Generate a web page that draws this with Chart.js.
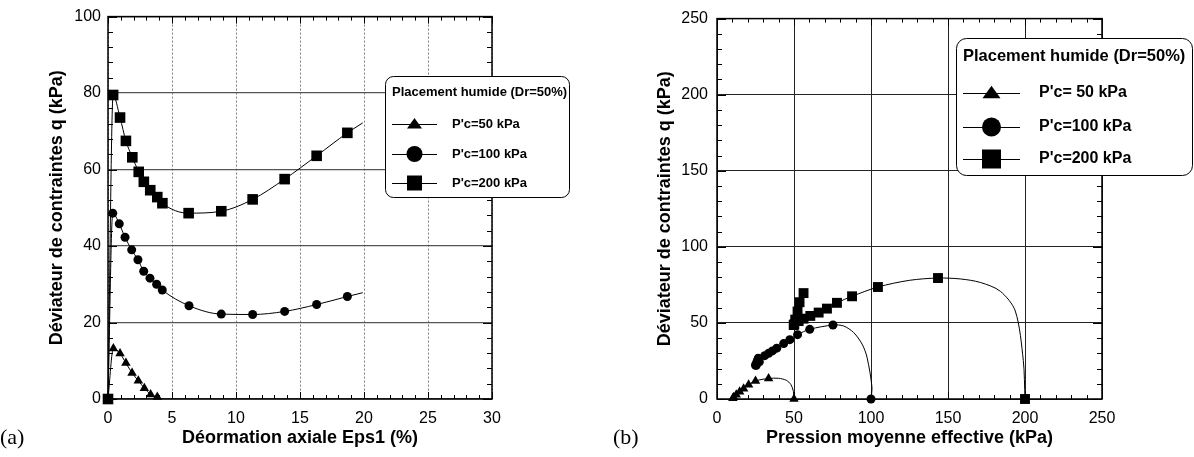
<!DOCTYPE html>
<html>
<head>
<meta charset="utf-8">
<script src="https://cdn.jsdelivr.net/npm/chart.js@4.4.0/dist/chart.umd.min.js"></script>
<style>
  body { margin: 0; background: #fff; width: 1194px; height: 457px; position: relative; overflow: hidden; }
  .panel { position: absolute; top: 0; width: 597px; height: 457px; }
  .tag { position: absolute; font-family: "Liberation Serif", serif; font-size: 22px; line-height: 24px; }
</style>
</head>
<body>
<div class="panel" style="left:0"><canvas id="chartA" width="597" height="457"></canvas></div>
<div class="panel" style="left:597px"><canvas id="chartB" width="597" height="457"></canvas></div>
<div class="tag" style="left:0;top:425px">(a)</div>
<div class="tag" style="left:613px;top:425px">(b)</div>
<script>
const legendTitle = 'Placement humide (Dr=50%)';
const namesA = ["P'c=50 kPa", "P'c=100 kPa", "P'c=200 kPa"];
const namesB = ["P'c= 50 kPa", "P'c=100 kPa", "P'c=200 kPa"];
const markers = ['triangle', 'circle', 'rect'];

// (a) deviator q vs axial strain
const epsA50 = [0, 0.42, 0.94, 1.4, 1.88, 2.37, 2.84, 3.33, 3.85];
const qA50   = [0, 13.2, 11.9, 9.4, 6.8, 4.8, 2.8, 1.2, 0.5];
const markA50 = [1, 1, 1, 1, 1, 1, 1, 1, 1];

const epsA100 = [0, 0.37, 0.88, 1.33, 1.85, 2.34, 2.79, 3.28, 3.8, 4.24, 6.33, 8.85, 11.3, 13.8, 16.3, 18.7, 19.9];
const qA100   = [0, 48.6, 45.8, 42.3, 39.0, 36.4, 33.4, 31.6, 30.0, 28.5, 24.4, 22.2, 22.1, 22.9, 24.7, 26.8, 27.8];
const markA100 = [1, 1, 1, 1, 1, 1, 1, 1, 1, 1, 1, 1, 1, 1, 1, 1, 0];

const epsA200 = [0, 0.4, 0.94, 1.4, 1.9, 2.4, 2.8, 3.3, 3.85, 4.25, 6.3, 8.85, 11.3, 13.8, 16.3, 18.7, 19.9];
const qA200   = [0, 79.5, 73.6, 67.5, 63.2, 59.4, 56.8, 54.6, 52.8, 51.2, 48.6, 49.1, 52.2, 57.5, 63.6, 69.6, 72.2];
const markA200 = [1, 1, 1, 1, 1, 1, 1, 1, 1, 1, 1, 1, 1, 1, 1, 1, 0];

// (b) stress paths q vs p'
const pB50 = [50, 49.6, 48, 45, 40, 33.5, 25, 20.5, 17.3, 14.7, 12.5, 10.8, 10.3];
const qB50 = [0, 5, 9.5, 12.3, 13.6, 13.5, 11.9, 9.4, 6.8, 4.8, 2.8, 1.2, 0.5];
const markB50 = [1, 0, 0, 0, 0, 1, 1, 1, 1, 1, 1, 1, 1];

const pB100 = [100, 100.6, 97.4, 94.2, 88.7, 82.2, 75.3, 60.2, 52.3, 47.3, 43.3, 38.8, 36, 33.5, 31, 27.5, 25.5, 25, 25.3, 26, 26.8];
const qB100 = [0, 8, 27.5, 36.1, 43.7, 48, 48.6, 45.8, 42.3, 39.0, 36.4, 33.4, 31.6, 30.0, 28.5, 24.4, 22.2, 22.1, 22.9, 24.7, 26.8];
const markB100 = [1, 0, 0, 0, 0, 0, 1, 1, 1, 1, 1, 1, 1, 1, 1, 1, 1, 1, 1, 1, 1];

const pB200 = [200, 198.9, 193.7, 184, 171, 158, 143.5, 125, 104.5, 87.7, 77.9, 71.4, 66, 60.6, 56.2, 53, 49.8, 50.2, 50.8, 52.3, 53.6, 56.2];
const qB200 = [0, 25.3, 57.8, 70.8, 76.6, 78.9, 79.5, 78, 73.6, 67.5, 63.2, 59.4, 56.8, 54.6, 52.8, 51.2, 48.6, 49.1, 52.2, 57.5, 63.6, 69.6];
const markB200 = [1, 0, 0, 0, 0, 0, 1, 0, 1, 1, 1, 1, 1, 1, 1, 1, 1, 1, 1, 1, 1, 1];

Chart.defaults.font.family = '"Liberation Sans", Arial, sans-serif';
Chart.defaults.color = '#000';

function series(xs, ys, marks, style, radius, extra) {
  return Object.assign({
    data: xs.map((v, i) => ({ x: v, y: ys[i] })),
    showLine: true,
    borderColor: '#000',
    borderWidth: 1,
    pointStyle: style,
    backgroundColor: '#000',
    pointBorderColor: '#000',
    pointBorderWidth: 0,
    pointRadius: ctx => (marks[ctx.dataIndex] ? radius : 0),
    pointHoverRadius: ctx => (marks[ctx.dataIndex] ? radius : 0),
    clip: false
  }, extra);
}

function drawMarker(ctx, style, x, y, r) {
  ctx.beginPath();
  if (style === 'circle') {
    ctx.arc(x, y, r, 0, Math.PI * 2);
  } else if (style === 'rect') {
    ctx.rect(x - r, y - r, 2 * r, 2 * r);
  } else {
    const h = r * 1.3;
    ctx.moveTo(x, y - h * 0.62);
    ctx.lineTo(x + r, y + h * 0.45);
    ctx.lineTo(x - r, y + h * 0.45);
    ctx.closePath();
  }
  ctx.fill();
}

// frame and inward minor/major ticks on all four sides
function frame(o) {
  return {
    id: 'frame',
    beforeDatasetsDraw(chart) {
      const { ctx, chartArea: a, scales: { x, y } } = chart;
      ctx.save();
      ctx.strokeStyle = '#000';
      ctx.lineWidth = 1;
      ctx.beginPath();
      const nx = Math.round((x.max - x.min) / o.xMinor);
      for (let i = 0; i <= nx; i++) {
        const v = x.min + i * o.xMinor;
        const px = Math.round(x.getPixelForValue(v)) + 0.5;
        const len = i % o.xEvery === 0 ? 7 : 4;
        ctx.moveTo(px, a.bottom); ctx.lineTo(px, a.bottom - len);
        ctx.moveTo(px, a.top); ctx.lineTo(px, a.top + len);
      }
      const ny = Math.round((y.max - y.min) / o.yMinor);
      for (let i = 0; i <= ny; i++) {
        const v = y.min + i * o.yMinor;
        const py = Math.round(y.getPixelForValue(v)) + 0.5;
        const len = i % o.yEvery === 0 ? 9 : 5;
        ctx.moveTo(a.left, py); ctx.lineTo(a.left + len, py);
        ctx.moveTo(a.right, py); ctx.lineTo(a.right - len, py);
      }
      ctx.stroke();
      ctx.lineWidth = 1.5;
      ctx.strokeRect(a.left, a.top, a.right - a.left, a.bottom - a.top);
      ctx.restore();
    }
  };
}

function boxLegend(c) {
  return {
    id: 'boxLegend',
    afterDraw(chart) {
      const ctx = chart.ctx;
      const { x, y, w, h, r } = c.box;
      ctx.save();
      ctx.beginPath();
      ctx.moveTo(x + r, y);
      ctx.arcTo(x + w, y, x + w, y + h, r);
      ctx.arcTo(x + w, y + h, x, y + h, r);
      ctx.arcTo(x, y + h, x, y, r);
      ctx.arcTo(x, y, x + w, y, r);
      ctx.closePath();
      ctx.fillStyle = '#fff';
      ctx.fill();
      ctx.strokeStyle = '#000';
      ctx.lineWidth = 1;
      ctx.stroke();
      ctx.fillStyle = '#000';
      ctx.textBaseline = 'middle';
      ctx.font = 'bold ' + c.titleSize + 'px "Liberation Sans"';
      ctx.fillText(legendTitle, c.titleX, c.titleY);
      ctx.font = 'bold ' + c.size + 'px "Liberation Sans"';
      c.names.forEach((name, i) => {
        const ry = c.rowY[i];
        ctx.beginPath();
        ctx.moveTo(c.lineX0, ry + 0.5);
        ctx.lineTo(c.lineX1, ry + 0.5);
        ctx.stroke();
        drawMarker(ctx, markers[i], (c.lineX0 + c.lineX1) / 2, ry, c.radii[i]);
        ctx.fillText(name, c.textX, ry);
      });
      ctx.restore();
    }
  };
}

function scales(o) {
  return {
    x: {
      type: 'linear', min: o.xMin, max: o.xMax,
      afterFit: s => { s.height = 58; },
      ticks: { stepSize: o.xStep, padding: 10, font: { size: 16 } },
      grid: { drawTicks: false, color: o.xGrid, lineWidth: o.xGridWidth },
      border: { display: false, dash: o.xDash },
      title: { display: true, text: o.xTitle, font: { size: 18, weight: 'bold' }, padding: { top: 0, bottom: 8 } }
    },
    y: {
      type: 'linear', min: o.yMin, max: o.yMax,
      afterFit: s => { s.width = o.yWidth; },
      ticks: { stepSize: o.yStep, padding: o.yPad, font: { size: 16 } },
      grid: { drawTicks: false, color: o.yGrid, lineWidth: o.yGridWidth },
      border: { display: false },
      title: { display: true, text: 'Déviateur de contraintes q (kPa)', font: { size: 18, weight: 'bold' }, padding: { top: o.yTitlePad, bottom: 0 } }
    }
  };
}

new Chart(document.getElementById('chartA'), {
  type: 'scatter',
  data: {
    datasets: [
      series(epsA50, qA50, markA50, markers[0], 5.5, { cubicInterpolationMode: 'monotone' }),
      series(epsA100, qA100, markA100, markers[1], 4.5, { cubicInterpolationMode: 'monotone' }),
      series(epsA200, qA200, markA200, markers[2], 7.5, { cubicInterpolationMode: 'monotone' })
    ]
  },
  options: {
    responsive: false, animation: false,
    layout: { padding: { left: 0, right: 105, top: 14, bottom: 0 } },
    plugins: { legend: { display: false }, tooltip: { enabled: false } },
    scales: scales({
      xMin: 0, xMax: 30, xStep: 5, xTitle: 'Déormation axiale Eps1 (%)',
      xGrid: '#7a7a7a', xGridWidth: 1, xDash: [2, 2],
      yMin: 0, yMax: 100, yStep: 20, yGrid: '#555', yGridWidth: 1.3,
      yWidth: 108, yPad: 7, yTitlePad: 46
    })
  },
  plugins: [
    frame({ xMinor: 1, xEvery: 5, yMinor: 4, yEvery: 5 }),
    boxLegend({
      box: { x: 385.5, y: 76.5, w: 184, h: 121, r: 8 },
      titleSize: 13, titleX: 392, titleY: 92,
      size: 13, names: namesA, rowY: [124, 154, 183],
      lineX0: 392, lineX1: 437, textX: 452,
      radii: [7.5, 8, 7.5]
    })
  ]
});

new Chart(document.getElementById('chartB'), {
  type: 'scatter',
  data: {
    datasets: [
      series(pB50, qB50, markB50, markers[0], 5.5, { tension: 0.3 }),
      series(pB100, qB100, markB100, markers[1], 4.5, { tension: 0.3 }),
      series(pB200, qB200, markB200, markers[2], 7, { tension: 0.3 })
    ]
  },
  options: {
    responsive: false, animation: false,
    layout: { padding: { left: 0, right: 92, top: 14, bottom: 0 } },
    plugins: { legend: { display: false }, tooltip: { enabled: false } },
    scales: scales({
      xMin: 0, xMax: 250, xStep: 50, xTitle: 'Pression moyenne effective (kPa)',
      xGrid: '#222', xGridWidth: 1, xDash: [],
      yMin: 0, yMax: 250, yStep: 50, yGrid: '#222', yGridWidth: 1,
      yWidth: 120, yPad: 9, yTitlePad: 57
    })
  },
  plugins: [
    frame({ xMinor: 10, xEvery: 5, yMinor: 10, yEvery: 5 }),
    boxLegend({
      box: { x: 359.5, y: 38.5, w: 236, h: 137, r: 10 },
      titleSize: 16.5, titleX: 366, titleY: 56,
      size: 16, names: namesB, rowY: [93, 127, 159],
      lineX0: 366, lineX1: 423, textX: 442,
      radii: [9, 9.5, 9.5]
    })
  ]
});
</script>
</body>
</html>
